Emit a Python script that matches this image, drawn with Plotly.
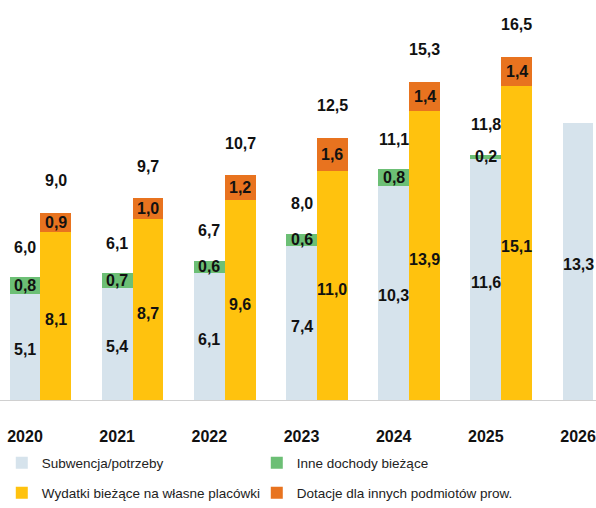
import plotly.graph_objects as go

years = ["2020", "2021", "2022", "2023", "2024", "2025", "2026"]
subwencja = [5.1, 5.4, 6.1, 7.4, 10.3, 11.6, 13.3]
inne = [0.8, 0.7, 0.6, 0.6, 0.8, 0.2, None]
left_total = [6.0, 6.1, 6.7, 8.0, 11.1, 11.8, None]
wydatki = [8.1, 8.7, 9.6, 11.0, 13.9, 15.1, None]
dotacje = [0.9, 1.0, 1.2, 1.6, 1.4, 1.4, None]
right_total = [9.0, 9.7, 10.7, 12.5, 15.3, 16.5, None]

names = ["Subwencja/potrzeby", "Inne dochody bieżące",
         "Wydatki bieżące na własne placówki", "Dotacje dla innych podmiotów prow."]
colors = ["#d6e3ec", "#6cbf75", "#ffc20e", "#e8731f"]

FONT = "Liberation Sans, Arial, sans-serif"
BW = 0.335
OFF = 0.335

idx = list(range(len(years)))
xl = idx
xr = [i + OFF for i in idx]

fig = go.Figure()
fig.add_bar(x=xl, y=subwencja, width=BW, marker_color=colors[0], name=names[0], legend="legend")
fig.add_bar(x=xl, y=inne, width=BW, marker_color=colors[1], name=names[1], legend="legend")
fig.add_bar(x=xr, y=wydatki, width=BW, marker_color=colors[2], name=names[2], legend="legend2")
fig.add_bar(x=xr, y=dotacje, width=BW, marker_color=colors[3], name=names[3], legend="legend2")
for t in fig.data:
    t.marker.line.width = 0


def fmt(v):
    return f"{v:.1f}".replace(".", ",")


ann = []
lab_font = dict(family=FONT, size=16, color="#111111")
for i in idx:
    b = subwencja[i]
    ann.append(dict(x=xl[i], y=b / 2, text=f"<b>{fmt(b)}</b>", yshift=-3))
    if inne[i] is not None:
        ann.append(dict(x=xl[i], y=b + inne[i] / 2, text=f"<b>{fmt(inne[i])}</b>"))
        ann.append(dict(x=xl[i], y=b + inne[i], text=f"<b>{fmt(left_total[i])}</b>", yshift=30))
    if wydatki[i] is not None:
        w = wydatki[i]
        ann.append(dict(x=xr[i], y=w / 2, text=f"<b>{fmt(w)}</b>", yshift=-4))
        ann.append(dict(x=xr[i], y=w + dotacje[i] / 2, text=f"<b>{fmt(dotacje[i])}</b>"))
        ann.append(dict(x=xr[i], y=w + dotacje[i], text=f"<b>{fmt(right_total[i])}</b>", yshift=32))
for a in ann:
    a.update(xref="x", yref="y", showarrow=False, font=lab_font, yanchor="middle")

leg_common = dict(orientation="h", x=0.003, xanchor="left", yanchor="middle",
                  entrywidth=210, entrywidthmode="pixels", traceorder="normal",
                  font=dict(family=FONT, size=13.5, color="#222222"), bgcolor="rgba(0,0,0,0)")

fig.update_layout(
    width=596, height=508,
    margin=dict(l=0, r=0, t=0, b=108, autoexpand=False),
    paper_bgcolor="white", plot_bgcolor="white",
    barmode="stack", bargap=0,
    annotations=ann,
    xaxis=dict(range=[-0.271, 6.195], tickvals=idx, ticktext=[f"<b>{y}</b>" for y in years],
               tickfont=dict(family=FONT, size=16, color="#111111"),
               showgrid=False, zeroline=False, showline=True, linecolor="#d0d0d0",
               linewidth=1, ticks="", ticklabelstandoff=22, ticklabeloverflow="allow",
               automargin=False, fixedrange=True),
    yaxis=dict(range=[0, 400 / 20.8], visible=False, showgrid=False, fixedrange=True),
    legend=dict(leg_common, y=-0.1575),
    legend2=dict(leg_common, y=-0.2325),
    showlegend=True,
)

fig.write_html(
    "out.html",
    config={"displayModeBar": False},
    post_script="document.body.style.margin='0';document.body.style.overflow='hidden';",
)
